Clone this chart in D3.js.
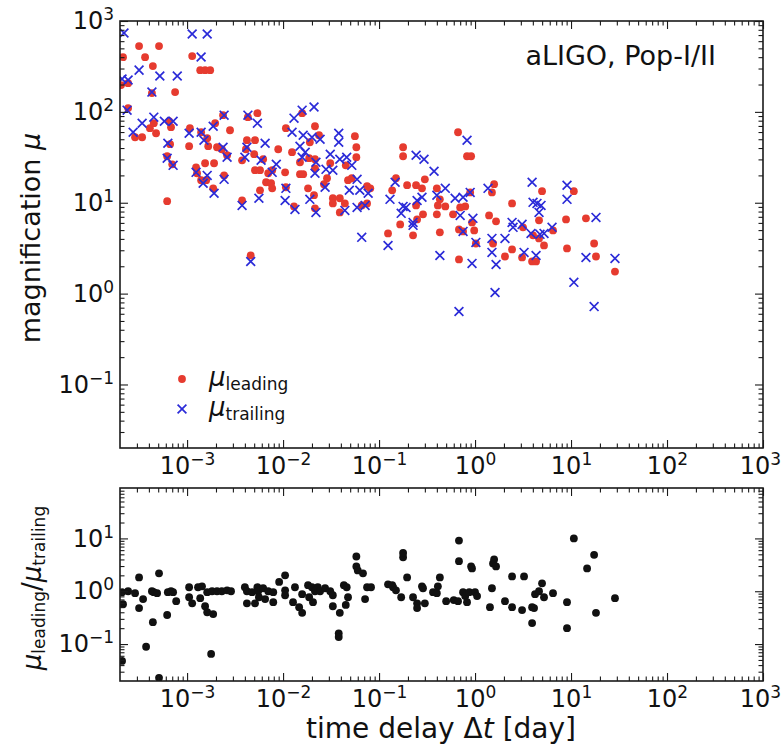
<!DOCTYPE html>
<html>
<head>
<meta charset="utf-8">
<script src="https://cdn.jsdelivr.net/npm/d3@7"></script>
<style>
  html, body { margin: 0; padding: 0; background: #fff; }
  svg { display: block; }
  text { font-family: "DejaVu Sans", sans-serif; fill: #111; }
</style>
</head>
<body>
<svg id="chart" width="782" height="747"></svg>
<script>
// Leading image: [time delay (day), magnification]
const leadingPoints = [
  [2.15e-4, 400], [3.16e-4, 530], [5.1e-4, 530], [3.65e-4, 400], [4.4e-4, 319],
  [2.43e-4, 207], [4.3e-4, 161], [7.5e-4, 165], [2.43e-4, 110], [2.05e-4, 197],
  [1.13e-3, 411], [1.37e-3, 288], [1.54e-3, 288], [1.74e-3, 288],
  [2.87e-4, 52.6], [3.4e-4, 52.6], [4.1e-4, 66.1], [4.5e-4, 75], [4.75e-4, 58.2],
  [6.5e-4, 78.9], [6.8e-4, 67.8], [6.65e-4, 44.1], [6.2e-4, 32.5], [7.0e-4, 26.5],
  [6.2e-4, 10.4], [1.07e-3, 66.1], [1.05e-3, 41.9], [1.4e-3, 59.7], [1.62e-3, 51.3],
  [1.66e-3, 41.9], [1.96e-3, 75], [2.05e-3, 40.8], [2.3e-3, 38.8], [2.37e-3, 92],
  [2.8e-3, 62.8], [2.61e-3, 33.3], [2.43e-3, 20.0], [1.24e-3, 24.5], [1.27e-3, 21.1],
  [1.4e-3, 17.7], [1.58e-3, 17.7], [1.91e-3, 27.2], [1.54e-3, 27.2], [1.87e-3, 14.4],
  [4.3e-3, 87.5], [5.4e-3, 96.8], [4.2e-3, 48.8], [5.1e-3, 48.8], [4.1e-3, 38.8],
  [5.0e-3, 34.2], [5.1e-3, 22.8], [5.75e-3, 22.8], [6.2e-3, 30.1], [7.0e-3, 21.1],
  [7.7e-3, 22.8], [6.65e-3, 16.8], [7.5e-3, 16.4], [5.75e-3, 13.7], [7.7e-3, 14.4],
  [8.9e-3, 38.8], [1.05e-2, 21.6], [1.07e-2, 14.8], [3.74e-3, 29.3], [3.74e-3, 10.6],
  [1.07e-2, 66.1], [1.24e-2, 36.0], [1.3e-2, 9.12], [4.6e-3, 2.63],
  [1.5e-2, 20.6], [1.62e-2, 20.6], [1.5e-2, 27.9], [1.58e-2, 96.8], [2.15e-2, 69.5],
  [2.37e-2, 55.3], [1.9e-2, 46.3], [1.87e-2, 30.9], [2.15e-2, 30.1], [2.15e-2, 23.9],
  [3.1e-2, 27.2], [2.87e-2, 18.6], [2.67e-2, 16.0], [1.82e-2, 14.4], [2.1e-2, 12.1],
  [2.15e-2, 8.67], [3.3e-2, 11.2], [3.9e-2, 11.2], [4.4e-2, 9.84], [3.3e-2, 9.84],
  [3.9e-2, 7.83], [4.75e-2, 17.7], [5.2e-2, 18.6], [4.5e-2, 25.8], [5.6e-2, 54.0],
  [5.8e-2, 40.8], [5.8e-2, 31.7], [7.5e-2, 15.2], [8.1e-2, 14.4], [6.6e-2, 9.35],
  [7.5e-2, 9.84],
  [0.178, 40.8], [0.178, 32.5], [0.15, 18.6], [0.137, 13.7], [0.196, 15.6],
  [0.243, 15.6], [0.28, 14.4], [0.30, 18.1], [0.40, 14.4], [0.43, 10.9],
  [0.49, 9.12], [0.79, 9.12], [0.59, 7.45], [0.287, 7.45], [0.249, 6.56],
  [0.166, 5.78], [0.665, 59.7], [0.825, 32.5], [0.91, 32.5], [0.124, 4.60],
  [0.226, 4.38], [0.43, 4.72], [0.68, 2.38], [0.68, 5.09], [0.40, 7.45],
  [0.243, 9.35], [0.41, 9.35], [0.70, 8.89], [0.89, 13.0],
  [1.58, 16.0], [1.50, 13.0], [2.43, 9.84], [4.99, 13.4], [10.7, 13.4],
  [1.40, 7.26], [1.655, 6.24], [4.64, 6.40], [8.87, 6.56], [14.3, 6.73],
  [0.93, 6.08], [3.16, 5.36], [0.75, 4.84], [0.98, 4.96], [1.02, 3.56],
  [1.54, 3.56], [2.43, 3.06], [2.05, 2.56], [3.09, 2.50], [3.93, 2.26],
  [4.32, 2.26], [4.02, 4.38], [4.64, 4.05], [5.23, 3.39], [6.49, 4.96],
  [9.08, 3.14], [17.4, 3.56], [18.2, 2.56], [28.7, 1.75]
];

// Trailing image: [time delay (day), magnification]
const trailingPoints = [
  [2.2e-4, 738], [3.16e-4, 288], [5.2e-4, 248], [7.9e-4, 248], [2.1e-4, 230],
  [2.43e-4, 224], [4.3e-4, 165], [2.37e-4, 104.5], [1.13e-3, 720], [1.62e-3, 720],
  [1.4e-3, 401], [2.74e-4, 59.7], [3.4e-4, 75], [4.5e-4, 87.5], [5.8e-4, 78.9],
  [7.15e-4, 78.9], [6.3e-4, 45.2], [6.2e-4, 30.9], [7.15e-4, 25.8], [1.05e-3, 58.2],
  [1.4e-3, 59.7], [1.5e-3, 48.8], [1.87e-3, 69.5], [2.43e-3, 92], [4.3e-3, 92],
  [5.4e-3, 75], [4.2e-3, 40.8], [2.37e-3, 40.8], [2.61e-3, 31.7], [4.0e-3, 31.7],
  [6.5e-3, 45.2], [8.5e-3, 26.5], [7.7e-3, 21.6], [1.05e-2, 10.6], [1.3e-2, 85.3],
  [1.58e-2, 104.5], [1.24e-2, 59.7], [1.5e-2, 41.9], [1.58e-2, 31.7], [3.74e-3, 9.35],
  [5.6e-3, 11.2], [1.24e-3, 21.6], [1.47e-3, 16.4], [1.62e-3, 20.0], [1.91e-3, 12.7],
  [2.43e-3, 18.1], [5.9e-3, 29.3], [1.07e-2, 14.4], [1.33e-2, 8.45], [4.6e-3, 2.26],
  [2.1e-2, 113], [1.62e-2, 55.3], [2.0e-2, 52.6], [2.43e-2, 50], [3.8e-2, 58.2],
  [3.8e-2, 46.3], [1.7e-2, 36.0], [2.2e-2, 27.9], [2.8e-2, 23.3], [3.3e-2, 22.8],
  [3.1e-2, 34.2], [3.9e-2, 30.1], [4.6e-2, 31.7], [5.2e-2, 25.8], [2.15e-2, 21.1],
  [2.74e-2, 14.8], [5.9e-2, 18.1], [6.3e-2, 13.7], [4.9e-2, 13.7], [7.7e-2, 12.7],
  [1.9e-2, 10.9], [2.2e-2, 7.83], [4.4e-2, 8.24], [5.9e-2, 8.89], [7.15e-2, 9.35],
  [6.6e-2, 4.16], [0.124, 3.39], [0.243, 33.3], [0.294, 30.1], [0.374, 22.2],
  [0.13, 10.9], [0.178, 9.12], [0.17, 7.64], [0.249, 10.6], [0.28, 11.5],
  [0.226, 5.64], [0.40, 12.1], [0.49, 14.4], [0.62, 11.2], [0.75, 11.5],
  [0.70, 7.26], [0.825, 48.8], [0.43, 2.63], [0.68, 0.635], [0.75, 4.84],
  [0.147, 16.8], [0.191, 8.89], [0.226, 6.08], [0.89, 13.0], [0.95, 6.73],
  [1.365, 14.4], [3.93, 16.8], [4.02, 10.1], [4.42, 9.84], [4.87, 9.35],
  [4.64, 7.83], [9.08, 15.6], [9.08, 10.9], [18.2, 6.90], [2.43, 6.08],
  [2.49, 5.36], [3.09, 5.78], [6.34, 5.36], [1.50, 4.05], [2.05, 4.05],
  [1.02, 3.66], [1.50, 2.84], [3.24, 2.84], [4.32, 2.63], [3.83, 4.60],
  [4.75, 4.49], [5.23, 4.60], [0.93, 2.15], [1.655, 2.09], [14.3, 2.50],
  [28.7, 2.44], [10.7, 1.33], [1.615, 1.03], [17.4, 0.72]
];

// Ratio of magnifications: [time delay (day), mu_leading / mu_trailing]
const ratioPoints = [
  [2.1e-4, 0.96], [2.15e-4, 0.57], [2.43e-4, 1.0], [2.87e-4, 0.92], [3.16e-4, 1.83],
  [3.16e-4, 0.48], [3.48e-4, 0.71], [3.74e-4, 0.089], [4.3e-4, 1.0], [4.5e-4, 0.96],
  [4.87e-4, 0.92], [4.4e-4, 0.26], [5.1e-4, 2.18], [5.1e-4, 0.023], [6.2e-4, 0.355],
  [6.3e-4, 0.96], [6.8e-4, 1.0], [7.15e-4, 0.96], [7.7e-4, 0.65], [2.1e-4, 0.048],
  [1.05e-3, 1.19], [1.13e-3, 0.59], [1.05e-3, 0.77], [1.3e-3, 1.19], [1.43e-3, 1.24],
  [1.37e-3, 0.74], [1.54e-3, 0.52], [1.62e-3, 0.96], [1.82e-3, 1.0], [2.05e-3, 1.0],
  [2.3e-3, 1.0], [2.61e-3, 1.04], [2.87e-3, 1.0], [1.62e-3, 0.40], [1.87e-3, 0.37],
  [1.78e-3, 0.065], [4.0e-3, 1.19], [4.2e-3, 1.0], [4.75e-3, 0.96], [5.4e-3, 1.19],
  [5.5e-3, 1.0], [6.2e-3, 1.14], [7.0e-3, 1.0], [7.9e-3, 0.96], [4.2e-3, 0.59],
  [5.1e-3, 0.59], [5.6e-3, 0.77], [6.5e-3, 0.71], [7.9e-3, 0.62], [9.1e-3, 1.5],
  [1.05e-2, 2.0], [1.05e-2, 1.04], [1.05e-2, 0.84], [1.27e-2, 0.62], [1.33e-2, 1.19],
  [1.47e-2, 0.50], [1.58e-2, 0.39], [1.58e-2, 0.88], [1.82e-2, 1.3], [2.0e-2, 1.19],
  [2.15e-2, 1.0], [2.3e-2, 1.19], [2.43e-2, 1.0], [1.87e-2, 0.77], [2.05e-2, 0.62],
  [2.74e-2, 1.14], [3.1e-2, 1.0], [3.3e-2, 0.84], [3.3e-2, 0.52], [3.9e-2, 0.39],
  [3.8e-2, 0.16], [3.8e-2, 0.136], [4.3e-2, 1.3], [4.6e-2, 1.19], [4.5e-2, 0.55],
  [4.75e-2, 0.77], [5.8e-2, 4.55], [5.8e-2, 2.95], [6.0e-2, 2.48], [6.8e-2, 2.18],
  [7.15e-2, 0.71], [7.5e-2, 1.19], [8.25e-2, 1.19],
  [0.124, 1.35], [0.14, 1.19], [0.137, 1.3], [0.15, 1.04], [0.17, 0.77],
  [0.178, 4.4], [0.178, 5.3], [0.196, 1.83], [0.226, 0.77], [0.249, 0.59],
  [0.249, 0.48], [0.28, 1.24], [0.287, 1.14], [0.30, 0.59], [0.365, 0.96],
  [0.40, 0.92], [0.41, 1.24], [0.43, 1.83], [0.50, 0.65], [0.60, 0.68],
  [0.665, 0.65], [0.68, 9.1], [0.68, 3.7], [0.75, 0.96], [0.79, 0.81],
  [0.825, 0.62], [0.87, 0.96], [0.93, 2.7], [0.91, 2.95], [1.0, 0.96],
  [1.05, 0.81], [1.43, 0.50], [1.50, 1.14], [1.54, 3.36], [1.58, 4.0],
  [1.655, 2.95], [2.05, 0.65], [2.43, 0.50], [2.43, 1.91], [3.09, 0.44],
  [3.24, 1.91], [3.93, 0.50], [4.12, 0.48], [3.93, 0.25], [4.22, 0.88],
  [4.64, 1.0], [4.99, 1.41], [5.23, 0.77], [6.49, 0.92], [9.08, 0.62],
  [9.08, 0.20], [10.7, 10], [14.7, 2.7], [17.4, 4.9], [18.2, 0.39],
  [28.7, 0.74]
];

// Axis ranges and labelled decades
const delayDomain = [2e-4, 1e3];
const muDomain = [2e-2, 1e3];
const ratioDomain = [2e-2, 90];
const delayTickExponents = [-3, -2, -1, 0, 1, 2, 3];
const muTickExponents = [-1, 0, 1, 2, 3];
const ratioTickExponents = [-1, 0, 1];

const RED = "#e63b2f";
const BLUE = "#2b2bd8";
const INK = "#1a1a1a";
const DOT_R = 3.9;
const X_HALF = 4.4;

const W = 782;
const svg = d3.select("#chart");

const left = 120, right = 763;
const top1 = 21, bottom1 = 448;
const top2 = 488, bottom2 = 681;

const x = d3.scaleLog().domain(delayDomain).range([left, right]);
const yMu = d3.scaleLog().domain(muDomain).range([bottom1, top1]);
const yRatio = d3.scaleLog().domain(ratioDomain).range([bottom2, top2]);

// minor ticks at 2..9 x 10^k inside a log domain
function minorTicks(domain) {
  const out = [];
  const lo = Math.floor(Math.log10(domain[0]));
  const hi = Math.ceil(Math.log10(domain[1]));
  for (let k = lo; k < hi; k++) {
    for (let m = 2; m <= 9; m++) {
      const v = m * Math.pow(10, k);
      if (v > domain[0] * 1.0001 && v < domain[1] * 0.9999) out.push(v);
    }
  }
  return out;
}

// "10" with the exponent as a raised, smaller tspan
function expLabel(sel) {
  sel.each(function (d) {
    const e = Math.round(Math.log10(d));
    const t = d3.select(this);
    t.text(null);
    t.append("tspan").text("10");
    t.append("tspan")
      .attr("font-size", "17px")
      .attr("dy", "-9px")
      .text(e < 0 ? "\u2212" + Math.abs(e) : String(e));
  });
}

// keep the last decade label inside the page
function fitInside(sel) {
  sel.each(function () {
    const box = this.getBoundingClientRect();
    if (box.right > W - 1) {
      d3.select(this).attr("x", -(box.right - (W - 1)));
    }
  });
}

function styleAxis(g) {
  g.select(".domain").remove();
  g.selectAll(".tick line").attr("stroke", INK).attr("stroke-width", 1.1);
  g.selectAll(".tick text")
    .attr("fill", "#111")
    .attr("font-family", "'Liberation Sans', Arial, sans-serif")
    .attr("font-size", "24px");
}

function drawPanel(yScale, top, bottom, yExps) {
  const g = svg.append("g");
  const majorX = delayTickExponents.map(e => Math.pow(10, e));
  const minorX = minorTicks(x.domain());
  const majorY = yExps.map(e => Math.pow(10, e));
  const minorY = minorTicks(yScale.domain());
  const MAJ = 8, MIN = 4.5;

  // bottom
  g.append("g").attr("transform", `translate(0,${bottom})`)
    .call(d3.axisBottom(x).tickValues(majorX).tickSize(-MAJ).tickPadding(9))
    .call(styleAxis)
    .call(a => a.selectAll(".tick text").call(expLabel).call(fitInside));
  g.append("g").attr("transform", `translate(0,${bottom})`)
    .call(d3.axisBottom(x).tickValues(minorX).tickSize(-MIN).tickFormat(() => ""))
    .call(styleAxis);
  // top
  g.append("g").attr("transform", `translate(0,${top})`)
    .call(d3.axisTop(x).tickValues(majorX).tickSize(-MAJ).tickFormat(() => ""))
    .call(styleAxis);
  g.append("g").attr("transform", `translate(0,${top})`)
    .call(d3.axisTop(x).tickValues(minorX).tickSize(-MIN).tickFormat(() => ""))
    .call(styleAxis);
  // left
  g.append("g").attr("transform", `translate(${left},0)`)
    .call(d3.axisLeft(yScale).tickValues(majorY).tickSize(-MAJ).tickPadding(6))
    .call(styleAxis)
    .call(a => a.selectAll(".tick text").call(expLabel));
  g.append("g").attr("transform", `translate(${left},0)`)
    .call(d3.axisLeft(yScale).tickValues(minorY).tickSize(-MIN).tickFormat(() => ""))
    .call(styleAxis);
  // right
  g.append("g").attr("transform", `translate(${right},0)`)
    .call(d3.axisRight(yScale).tickValues(majorY).tickSize(-MAJ).tickFormat(() => ""))
    .call(styleAxis);
  g.append("g").attr("transform", `translate(${right},0)`)
    .call(d3.axisRight(yScale).tickValues(minorY).tickSize(-MIN).tickFormat(() => ""))
    .call(styleAxis);

  // frame
  g.append("rect")
    .attr("x", left).attr("y", top)
    .attr("width", right - left).attr("height", bottom - top)
    .attr("fill", "none").attr("stroke", INK).attr("stroke-width", 1.6);
  return g;
}

// clip paths so markers stay inside each frame
const defs = svg.append("defs");
defs.append("clipPath").attr("id", "clipTop").append("rect")
  .attr("x", left).attr("y", top1).attr("width", right - left).attr("height", bottom1 - top1);
defs.append("clipPath").attr("id", "clipBottom").append("rect")
  .attr("x", left).attr("y", top2).attr("width", right - left).attr("height", bottom2 - top2);

function crossPath(cx, cy, s) {
  return `M${cx - s},${cy - s}L${cx + s},${cy + s}M${cx - s},${cy + s}L${cx + s},${cy - s}`;
}

// ---------- upper panel: magnifications ----------
const marks1 = svg.append("g").attr("clip-path", "url(#clipTop)");
marks1.selectAll("circle.lead").data(leadingPoints).join("circle")
  .attr("class", "lead")
  .attr("cx", d => x(d[0])).attr("cy", d => yMu(d[1]))
  .attr("r", DOT_R).attr("fill", RED);

marks1.selectAll("path.trail").data(trailingPoints).join("path")
  .attr("class", "trail")
  .attr("d", d => crossPath(x(d[0]), yMu(d[1]), X_HALF))
  .attr("stroke", BLUE).attr("stroke-width", 1.7).attr("fill", "none");

drawPanel(yMu, top1, bottom1, muTickExponents);

// annotation
svg.append("text")
  .attr("x", 716).attr("y", 65)
  .attr("text-anchor", "end")
  .attr("font-size", "27px")
  .text("aLIGO, Pop-I/II");

// legend
const legend = svg.append("g");
legend.append("circle").attr("cx", 182).attr("cy", 379).attr("r", DOT_R).attr("fill", RED);
legend.append("path").attr("d", crossPath(182, 409, X_HALF))
  .attr("stroke", BLUE).attr("stroke-width", 1.7).attr("fill", "none");
function muWithSub(sel, sub) {
  sel.append("tspan").attr("font-style", "italic").text("\u03bc");
  sel.append("tspan").attr("font-size", "17px").attr("dy", "4px").text(sub);
}
legend.append("text").attr("x", 209).attr("y", 386).attr("font-size", "26px")
  .call(muWithSub, "leading");
legend.append("text").attr("x", 209).attr("y", 416).attr("font-size", "26px")
  .call(muWithSub, "trailing");

// y label upper
svg.append("text")
  .attr("transform", "translate(40,238) rotate(-90)")
  .attr("text-anchor", "middle")
  .attr("font-size", "27px")
  .call(t => {
    t.append("tspan").text("magnification ");
    t.append("tspan").attr("font-style", "italic").text("\u03bc");
  });

// ---------- lower panel: magnification ratio ----------
const marks2 = svg.append("g").attr("clip-path", "url(#clipBottom)");
marks2.selectAll("circle.ratio").data(ratioPoints).join("circle")
  .attr("class", "ratio")
  .attr("cx", d => x(d[0])).attr("cy", d => yRatio(d[1]))
  .attr("r", DOT_R).attr("fill", "#111");

drawPanel(yRatio, top2, bottom2, ratioTickExponents);

// y label lower
svg.append("text")
  .attr("transform", "translate(41,588) rotate(-90)")
  .attr("text-anchor", "middle")
  .attr("font-size", "26px")
  .call(t => {
    t.append("tspan").attr("font-style", "italic").text("\u03bc");
    t.append("tspan").attr("font-size", "17px").attr("dy", "4px").text("leading");
    t.append("tspan").attr("dy", "-4px").text("/");
    t.append("tspan").attr("font-style", "italic").text("\u03bc");
    t.append("tspan").attr("font-size", "17px").attr("dy", "4px").text("trailing");
  });

// x label
svg.append("text")
  .attr("x", 441).attr("y", 738)
  .attr("text-anchor", "middle")
  .attr("font-size", "28px")
  .call(t => {
    t.append("tspan").text("time delay \u0394");
    t.append("tspan").attr("font-style", "italic").text("t");
    t.append("tspan").text(" [day]");
  });
</script>
</body>
</html>
